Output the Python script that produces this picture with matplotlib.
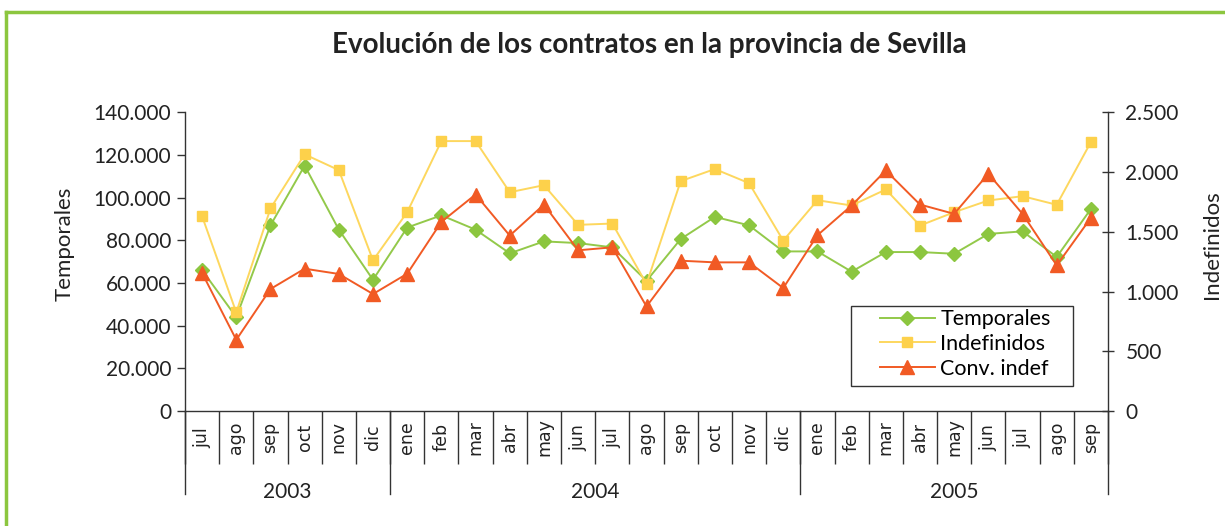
import matplotlib
matplotlib.use("Agg")
import matplotlib.pyplot as plt
from matplotlib.lines import Line2D
from matplotlib.patches import Rectangle
import matplotlib.transforms as mtransforms

months = ["jul", "ago", "sep", "oct", "nov", "dic",
          "ene", "feb", "mar", "abr", "may", "jun", "jul", "ago", "sep", "oct", "nov", "dic",
          "ene", "feb", "mar", "abr", "may", "jun", "jul", "ago", "sep"]
years = ["2003", "2004", "2005"]
year_counts = [6, 12, 9]

temporales = [66000, 44000, 87000, 115000, 85000, 61500,
              86000, 91700, 85000, 73900, 79500, 78700, 76700, 61000, 80600, 91000, 87000, 74800,
              74800, 65300, 74500, 74500, 73700, 83000, 84200, 72200, 94700]
indefinidos = [1630, 825, 1695, 2148, 2016, 1261,
               1664, 2259, 2259, 1831, 1890, 1558, 1569, 1063, 1924, 2025, 1907, 1426,
               1764, 1720, 1854, 1552, 1664, 1762, 1798, 1726, 2251]
conv_indef = [1155, 596, 1021, 1191, 1147, 979,
              1149, 1583, 1812, 1468, 1728, 1345, 1370, 875, 1258, 1244, 1244, 1029,
              1471, 1720, 2013, 1728, 1650, 1986, 1650, 1219, 1617]

left_ticks = [0, 20000, 40000, 60000, 80000, 100000, 120000, 140000]
left_labels = ["0", "20.000", "40.000", "60.000", "80.000", "100.000", "120.000", "140.000"]
right_ticks = [0, 500, 1000, 1500, 2000, 2500]
right_labels = ["0", "500", "1.000", "1.500", "2.000", "2.500"]

GREEN = "#8cc63f"
GREEN_LINE = "#93c94a"
YELLOW = "#fdd14b"
YELLOW_LINE = "#fdd75e"
ORANGE = "#f15a24"
DARK = "#222222"
AXC = "#333333"

FONT = "Lato"
W, H = 1225, 526
fig = plt.figure(figsize=(W / 100, H / 100), dpi=100)

# green frame (top and left)
fig.add_artist(Line2D([6 / W, 6 / W], [0, 1 - 12 / H], color=GREEN, lw=2.5, transform=fig.transFigure))
fig.add_artist(Line2D([6 / W, 1], [1 - 12 / H, 1 - 12 / H], color=GREEN, lw=2.5, transform=fig.transFigure))

x0, x1 = 185, 1108
y0, y1 = 411, 112.3
ax = fig.add_axes([x0 / W, 1 - y0 / H, (x1 - x0) / W, (y0 - y1) / H])
ax2 = ax.twinx()

n = len(months)
xs = list(range(n))

ax.plot(xs, temporales, color=GREEN_LINE, lw=1.4, marker="D", ms=7.5, mfc=GREEN, mec=GREEN, zorder=3)
ax2.plot(xs, indefinidos, color=YELLOW_LINE, lw=1.4, marker="s", ms=7, mfc=YELLOW, mec=YELLOW, zorder=3)
ax2.plot(xs, conv_indef, color=ORANGE, lw=1.4, marker="^", ms=9.5, mfc=ORANGE, mec=ORANGE, zorder=4)

ax.set_xlim(-0.5, n - 0.5)
ax.set_ylim(0, 140000)
ax2.set_ylim(0, 2500)

for a in (ax, ax2):
    a.spines["top"].set_visible(False)
    a.patch.set_visible(False)
ax.spines["right"].set_visible(False)
ax2.spines["left"].set_visible(False)
ax2.spines["bottom"].set_visible(False)
for s in ("left", "bottom"):
    ax.spines[s].set_color(AXC)
    ax.spines[s].set_linewidth(1.0)
ax2.spines["right"].set_color(AXC)
ax2.spines["right"].set_linewidth(1.0)

ax.set_yticks(left_ticks)
ax.set_yticklabels(left_labels, fontfamily=FONT, fontsize=15, color=DARK)
ax.tick_params(axis="y", direction="out", length=6, width=1, color=AXC, pad=4)
ax2.set_yticks(right_ticks)
ax2.set_yticklabels(right_labels, fontfamily=FONT, fontsize=15, color=DARK)
ax2.tick_params(axis="y", direction="inout", length=9, width=1, color=AXC, pad=8)

# x axis: category boundaries as long ticks, labels at centres
ax.set_xticks([i - 0.5 for i in range(n + 1)])
ax.set_xticklabels([])
ax.tick_params(axis="x", which="major", direction="out", length=38, width=1, color=AXC)
ax.set_xticks(xs, minor=True)
ax.set_xticklabels(months, minor=True, rotation=90, fontfamily="DejaVu Sans", fontsize=12.5,
                   color=DARK, va="center")
ax.tick_params(axis="x", which="minor", length=0, pad=19)

trans = mtransforms.blended_transform_factory(ax.transData, fig.transFigure)
start = 0
bounds = [-0.5]
for cnt in year_counts:
    start += cnt
    bounds.append(start - 0.5)
for b in bounds:
    fig.add_artist(Line2D([b, b], [1 - 411 / H, 1 - 494 / H], color=AXC, lw=1.0, transform=trans))
start = 0
for yr, cnt in zip(years, year_counts):
    cx = start + cnt / 2 - 0.5
    fig.text(cx, 1 - 492 / H, yr, transform=trans, ha="center", va="center",
             fontfamily=FONT, fontsize=15, color=DARK)
    start += cnt

fig.text(65 / W, 1 - 244 / H, "Temporales", rotation=90, ha="center", va="center",
         fontfamily=FONT, fontsize=16, color=DARK)
fig.text(1212 / W, 1 - 245 / H, "Indefinidos", rotation=90, ha="center", va="center",
         fontfamily=FONT, fontsize=16, color=DARK)

fig.text(649 / W, 1 - 45 / H, "Evolución de los contratos en la provincia de Sevilla",
         ha="center", va="center", fontfamily=FONT, fontweight="bold", fontsize=20, color=DARK)

# legend
fig.add_artist(Rectangle((851 / W, 1 - 386 / H), (1073 - 851) / W, (386 - 306) / H,
                         transform=fig.transFigure, facecolor="white", edgecolor=AXC, lw=1.0, zorder=5))
handles = [
    Line2D([], [], color=GREEN_LINE, lw=1.4, marker="D", ms=7.5, mfc=GREEN, mec=GREEN),
    Line2D([], [], color=YELLOW_LINE, lw=1.4, marker="s", ms=7, mfc=YELLOW, mec=YELLOW),
    Line2D([], [], color=ORANGE, lw=1.4, marker="^", ms=9.5, mfc=ORANGE, mec=ORANGE),
]
leg = fig.legend(handles, ["Temporales", "Indefinidos", "Conv. indef"],
                 loc="center left", bbox_to_anchor=(880 / W, 1 - 344 / H), bbox_transform=fig.transFigure,
                 prop={"family": FONT, "size": 15.5}, frameon=False,
                 handlelength=2.55, handletextpad=0.25, labelspacing=0.22, borderpad=0,
                 borderaxespad=0)
leg.set_zorder(6)

fig.savefig("out.png", dpi=100)
